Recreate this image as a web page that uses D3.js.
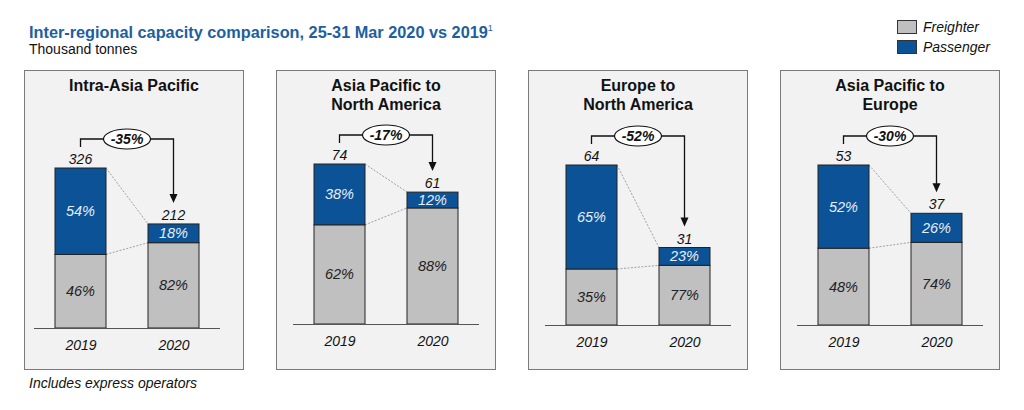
<!DOCTYPE html>
<html>
<head>
<meta charset="utf-8">
<script src="https://cdn.jsdelivr.net/npm/d3@7"></script>
<style>
  html, body { margin: 0; padding: 0; background: #ffffff; }
  svg { display: block; font-family: "Liberation Sans", Arial, sans-serif; }
</style>
</head>
<body>
<svg id="chart" width="1024" height="410"></svg>
<script>
// ---- data ----
const regionTitles = [
  ["Intra-Asia Pacific"],
  ["Asia Pacific to", "North America"],
  ["Europe to", "North America"],
  ["Asia Pacific to", "Europe"]
];
const years = ["2019", "2020"];
const totals2019 = [326, 74, 64, 53];
const totals2020 = [212, 61, 31, 37];
const passengerShare2019 = [54, 38, 65, 52];
const passengerShare2020 = [18, 12, 23, 26];
const freighterShare2019 = [46, 62, 35, 48];
const freighterShare2020 = [82, 88, 77, 74];
const changeLabels = ["-35%", "-17%", "-52%", "-30%"];
const seriesNames = ["Freighter", "Passenger"];

// ---- style / layout ----
const COL_BLUE = "#0c5296";
const COL_GRAY = "#c0c0c0";
const COL_PANEL = "#f2f2f2";
const COL_BORDER = "#7a7a7a";
const COL_TITLE = "#1d5f9f";
const panelContentShift = [-7, 0, 0, 0];
const panelBaselineShift = [3, -1, 0, 0];

const svg = d3.select("#chart");

// Title
const title = svg.append("text").attr("x", 29).attr("y", 38)
  .attr("fill", COL_TITLE).attr("font-weight", "bold").attr("font-size", 16.3)
  .text("Inter-regional capacity comparison, 25-31 Mar 2020 vs 2019");
title.append("tspan").attr("font-size", 9).attr("dy", -7).attr("font-weight", "normal").text("1");
svg.append("text").attr("x", 29).attr("y", 54).attr("font-size", 14)
  .attr("fill", "#111").text("Thousand tonnes");

// Legend
const legendColor = d3.scaleOrdinal().domain(seriesNames).range([COL_GRAY, COL_BLUE]);
const legendY = d3.scalePoint().domain(seriesNames).range([20, 40]);
const lg = svg.append("g");
seriesNames.forEach(n => {
  lg.append("rect").attr("x", 897.5).attr("y", legendY(n) + 0.5).attr("width", 19).attr("height", 13)
    .attr("fill", legendColor(n)).attr("stroke", "#333").attr("stroke-width", 1);
  lg.append("text").attr("x", 923).attr("y", legendY(n) + 12).attr("font-size", 14)
    .attr("font-style", "italic").attr("fill", "#111").text(n);
});

// Panels
const panelX = d3.scaleBand().domain(d3.range(4)).range([24, 1000]).paddingInner(32 / 252);
const panelTop = 70, panelBottom = 370;
const barH = 160, barW = 51;

d3.range(4).forEach(i => {
  const px = panelX(i);
  const pw = panelX.bandwidth();
  const cx = px + pw / 2 + panelContentShift[i];
  const baseline = 325 + panelBaselineShift[i];
  const g = svg.append("g");

  g.append("rect").attr("x", px + 0.5).attr("y", panelTop + 0.5)
    .attr("width", pw - 1).attr("height", panelBottom - panelTop - 1)
    .attr("fill", COL_PANEL).attr("stroke", COL_BORDER).attr("stroke-width", 1);

  // panel title
  regionTitles[i].forEach((t, k) => {
    g.append("text").attr("x", px + pw / 2).attr("y", 91 + k * 19).attr("text-anchor", "middle")
      .attr("font-size", 16).attr("font-weight", "bold").attr("fill", "#111").text(t);
  });

  const x = d3.scalePoint().domain(years).range([cx - 46.5, cx + 46.5]);
  const y = d3.scaleLinear().domain([0, totals2019[i]]).range([baseline, baseline - barH]);

  const bars = [
    { year: "2019", total: totals2019[i], pShare: passengerShare2019[i], fShare: freighterShare2019[i] },
    { year: "2020", total: totals2020[i], pShare: passengerShare2020[i], fShare: freighterShare2020[i] }
  ];
  bars.forEach(b => {
    b.freight = b.total * b.fShare / (b.fShare + b.pShare);
    b.left = x(b.year) - barW / 2;
    b.right = x(b.year) + barW / 2;
    b.top = y(b.total);
    b.split = y(b.freight);
  });

  // connector dotted lines
  const [a, c] = bars;
  [[a.top, c.top], [a.split, c.split]].forEach(([y1, y2]) => {
    g.append("line").attr("x1", a.right).attr("y1", y1).attr("x2", c.left).attr("y2", y2)
      .attr("stroke", "#8a8a8a").attr("stroke-width", 0.8).attr("stroke-dasharray", "2,1.5");
  });

  bars.forEach(b => {
    g.append("rect").attr("x", b.left).attr("y", b.split).attr("width", barW)
      .attr("height", y(0) - b.split).attr("fill", COL_GRAY).attr("stroke", "#222").attr("stroke-width", 1);
    g.append("rect").attr("x", b.left).attr("y", b.top).attr("width", barW)
      .attr("height", b.split - b.top).attr("fill", COL_BLUE).attr("stroke", "#222").attr("stroke-width", 1);
    // labels
    g.append("text").attr("x", x(b.year)).attr("y", (b.top + b.split) / 2 + 5)
      .attr("text-anchor", "middle").attr("font-size", 14.5).attr("font-style", "italic")
      .attr("fill", "#e6eef8").text(b.pShare + "%");
    g.append("text").attr("x", x(b.year)).attr("y", (b.split + y(0)) / 2 + 5)
      .attr("text-anchor", "middle").attr("font-size", 14.5).attr("font-style", "italic")
      .attr("fill", "#222").text(b.fShare + "%");
    g.append("text").attr("x", x(b.year)).attr("y", b.top - 4)
      .attr("text-anchor", "middle").attr("font-size", 14).attr("font-style", "italic")
      .attr("fill", "#111").text(b.total);
  });

  // baseline axis
  const axis = d3.axisBottom(x).tickSize(0).tickPadding(12);
  const ag = g.append("g").attr("transform", `translate(0,${baseline})`).call(axis);
  ag.select(".domain").attr("d", `M${cx - 93},0.5H${cx + 93}`).attr("stroke", "#555").attr("stroke-width", 1.2);
  ag.selectAll("text").attr("font-size", 14).attr("font-style", "italic").attr("fill", "#111")
    .attr("font-family", "Liberation Sans, Arial, sans-serif");

  // bracket arrow
  const by = a.top - 29;
  const x1 = x("2019"), x2 = x("2020");
  const tipY = c.top - 21;
  g.append("path").attr("d", `M${x1},${a.top - 21}V${by}H${x2}V${tipY - 8}`)
    .attr("fill", "none").attr("stroke", "#111").attr("stroke-width", 1.3);
  g.append("path").attr("d", `M${x2 - 4},${tipY - 9}L${x2 + 4},${tipY - 9}L${x2},${tipY}Z`)
    .attr("fill", "#111");
  g.append("ellipse").attr("cx", (x1 + x2) / 2).attr("cy", by).attr("rx", 23.5).attr("ry", 10)
    .attr("fill", "#fff").attr("stroke", "#111").attr("stroke-width", 1.2);
  g.append("text").attr("x", (x1 + x2) / 2).attr("y", by + 5).attr("text-anchor", "middle")
    .attr("font-size", 14).attr("font-weight", "bold").attr("font-style", "italic")
    .attr("fill", "#111").text(changeLabels[i]);
});

svg.append("text").attr("x", 29).attr("y", 388).attr("font-size", 14).attr("font-style", "italic")
  .attr("fill", "#111").text("Includes express operators");
</script>
</body>
</html>
